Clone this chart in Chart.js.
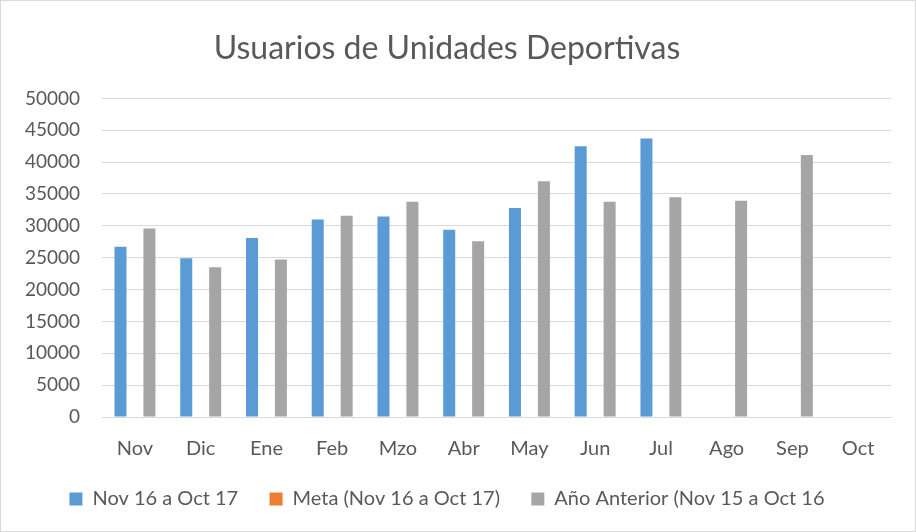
<!DOCTYPE html>
<html>
<head>
<meta charset="utf-8">
<script src="https://cdn.jsdelivr.net/npm/chart.js@4/dist/chart.umd.min.js"></script>
<style>
  html, body { margin: 0; padding: 0; background: #fff; }
  #wrap { position: relative; width: 914px; height: 530px; border: 1px solid #d9d9d9; }
</style>
</head>
<body>
<div id="wrap"><canvas id="chart" width="914" height="530"></canvas></div>
<script>
const months = ['Nov', 'Dic', 'Ene', 'Feb', 'Mzo', 'Abr', 'May', 'Jun', 'Jul', 'Ago', 'Sep', 'Oct'];
const actual = [26700, 24900, 28100, 31000, 31450, 29400, 32800, 42500, 43700, null, null, null];
const meta = [null, null, null, null, null, null, null, null, null, null, null, null];
const previousYear = [29600, 23500, 24700, 31600, 33800, 27600, 37000, 33800, 34500, 33950, 41100, null];

const ctx = document.getElementById('chart').getContext('2d');
const font = "Lato, 'Open Sans', sans-serif";

new Chart(ctx, {
    type: 'bar',
    data: {
        labels: months,
        datasets: [
            { label: 'Nov 16 a Oct 17', data: actual, backgroundColor: '#5b9bd5' },
            { label: 'Meta (Nov 16 a Oct 17)', data: meta, backgroundColor: '#ed7d31' },
            { label: 'Año Anterior (Nov 15 a Oct 16', data: previousYear, backgroundColor: '#a5a5a5' }
        ]
    },
    options: {
        responsive: false,
        animation: false,
        datasets: { bar: { categoryPercentage: 0.66, barPercentage: 0.83 } },
        layout: { padding: { left: 2, right: 24, top: 20, bottom: 12 } },
        scales: {
            x: {
                grid: { display: false },
                border: { display: true, color: '#d9d9d9' },
                ticks: { color: '#595959', font: { family: font, size: 20 }, padding: 12 }
            },
            y: {
                min: 0, max: 50000,
                grid: { color: '#d9d9d9', drawTicks: false },
                border: { display: false },
                ticks: {
                    stepSize: 5000, color: '#595959', padding: 22,
                    font: { family: font, size: 19 },
                    callback: v => String(v)
                }
            }
        },
        plugins: {
            title: {
                display: true, text: 'Usuarios de Unidades Deportivas', color: '#595959',
                font: { family: font, size: 32, weight: 'normal' }, padding: { top: 8, bottom: 31 }
            },
            legend: {
                position: 'bottom',
                labels: {
                    color: '#595959', boxWidth: 13, boxHeight: 13, padding: 16,
                    font: { family: font, size: 20 },
                    // extra room between items, like the original legend
                    generateLabels: chart => {
                        const items = Chart.defaults.plugins.legend.labels.generateLabels(chart);
                        items.forEach((it, i) => { if (i < items.length - 1) it.text += '   '; });
                        return items;
                    }
                }
            },
            tooltip: { enabled: false }
        }
    }
});
</script>
</body>
</html>
